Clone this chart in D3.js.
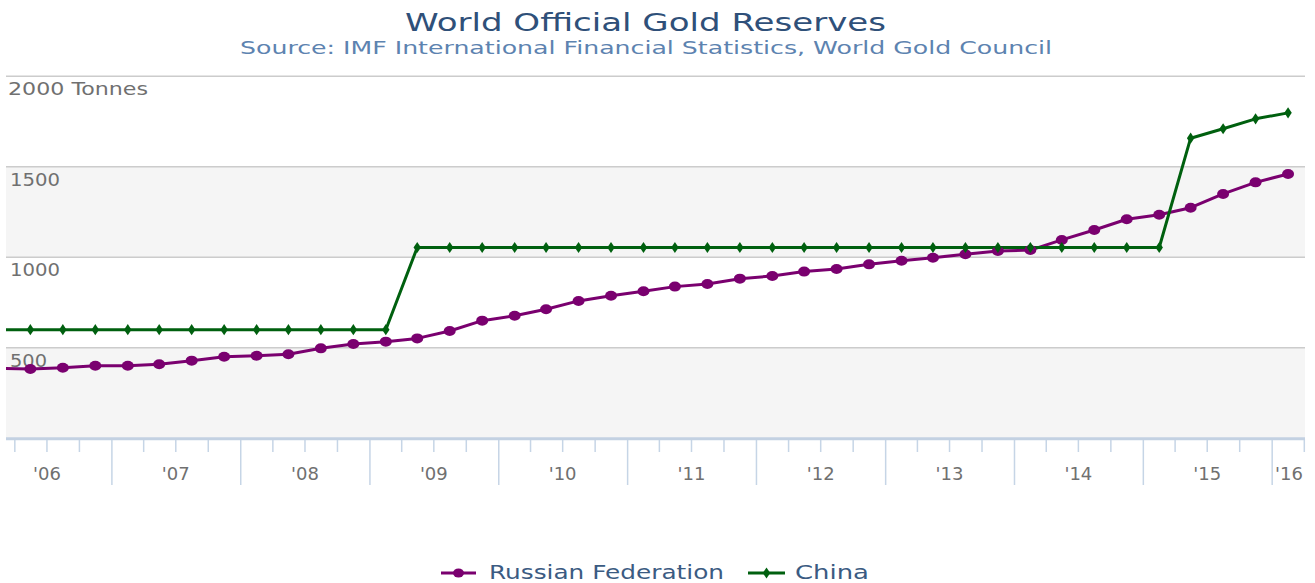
<!DOCTYPE html>
<html>
<head>
<meta charset="utf-8">
<script src="https://cdn.jsdelivr.net/npm/d3@7"></script>
<style>
  html, body { margin: 0; padding: 0; background: #fff; }
  svg { display: block; font-family: "DejaVu Sans", sans-serif; }
</style>
</head>
<body>
<svg id="chart" width="1315" height="583"></svg>
<script>
// ---- data ----
const quarters = [
  "2006-02-15","2006-05-15","2006-08-15","2006-11-15",
  "2007-02-15","2007-05-15","2007-08-15","2007-11-15",
  "2008-02-15","2008-05-15","2008-08-15","2008-11-15",
  "2009-02-15","2009-05-15","2009-08-15","2009-11-15",
  "2010-02-15","2010-05-15","2010-08-15","2010-11-15",
  "2011-02-15","2011-05-15","2011-08-15","2011-11-15",
  "2012-02-15","2012-05-15","2012-08-15","2012-11-15",
  "2013-02-15","2013-05-15","2013-08-15","2013-11-15",
  "2014-02-15","2014-05-15","2014-08-15","2014-11-15",
  "2015-02-15","2015-05-15","2015-08-15","2015-11-15",
  "2016-02-15"
];
const russia = [
  387, 383, 390, 401, 401, 409, 429, 451, 456, 464,
  497, 521, 534, 552, 593, 650, 677, 713, 759, 788,
  812, 838, 852, 882, 897, 921, 935, 961, 981, 998,
  1017, 1035, 1040, 1096, 1151, 1210, 1235, 1274, 1350, 1414,
  1460
];
const china = [
  600, 600, 600, 600, 600, 600, 600, 600, 600, 600,
  600, 600, 600, 1054, 1054, 1054, 1054, 1054, 1054, 1054,
  1054, 1054, 1054, 1054, 1054, 1054, 1054, 1054, 1054, 1054,
  1054, 1054, 1054, 1054, 1054, 1054, 1054, 1658, 1710, 1765,
  1798
];
const yTicks = [500, 1000, 1500, 2000];
const yTickLabels = ["500", "1000", "1500", "2000 Tonnes"];
const years = [2006, 2007, 2008, 2009, 2010, 2011, 2012, 2013, 2014, 2015, 2016];
const yearLabels = ["'06", "'07", "'08", "'09", "'10", "'11", "'12", "'13", "'14", "'15", "'16"];
const seriesNames = ["Russian Federation", "China"];
const title = "World Official Gold Reserves";
const subtitle = "Source: IMF International Financial Statistics, World Gold Council";

// ---- layout ----
const L = 6, R = 1305, T = 76.3, B = 438.3;
const cPurple = "#7a006f", cGreen = "#00600f";
const parse = d3.timeParse("%Y-%m-%d");
const dates = quarters.map(parse);

const x = d3.scaleTime()
  .domain([parse("2006-03-07"), parse("2016-04-03")])
  .range([L, R]);
const y = d3.scaleLinear().domain([0, 2000]).range([B, T]);

const svg = d3.select("#chart");

// title
svg.append("text").attr("x", 645.5).attr("y", 31)
  .attr("text-anchor", "middle").attr("font-size", 25)
  .attr("fill", "#2f5079")
  .attr("textLength", 481).attr("lengthAdjust", "spacingAndGlyphs")
  .text(title);
svg.append("text").attr("x", 646).attr("y", 54)
  .attr("text-anchor", "middle").attr("font-size", 18)
  .attr("fill", "#5d83b0")
  .attr("textLength", 812).attr("lengthAdjust", "spacingAndGlyphs")
  .text(subtitle);

// bands
const bands = [[0, 500], [1000, 1500]];
svg.append("g").selectAll("rect").data(bands).join("rect")
  .attr("x", L).attr("width", R - L)
  .attr("y", d => y(d[1])).attr("height", d => y(d[0]) - y(d[1]))
  .attr("fill", "#f5f5f5");

// gridlines
svg.append("g").selectAll("line").data(yTicks).join("line")
  .attr("x1", L).attr("x2", R)
  .attr("y1", d => y(d)).attr("y2", d => y(d))
  .attr("stroke", "#cccccc").attr("stroke-width", 1.5);

// y labels
svg.append("g").selectAll("text").data(yTicks).join("text")
  .attr("x", (d, i) => i === 3 ? 8 : 10)
  .attr("y", d => y(d) + 19)
  .attr("font-size", 18).attr("fill", "#707070")
  .attr("textLength", (d, i) => i === 3 ? 140 : (i === 0 ? 37 : 50))
  .attr("lengthAdjust", "spacingAndGlyphs")
  .text((d, i) => yTickLabels[i]);

// x axis
const xg = svg.append("g");
const qTicks = d3.timeMonth.every(3).range(x.domain()[0], x.domain()[1]);
xg.selectAll("line.tick").data(qTicks).join("line")
  .attr("class", "tick")
  .attr("x1", d => x(d)).attr("x2", d => x(d))
  .attr("y1", B)
  .attr("y2", d => d.getMonth() === 0 ? 485 : 452)
  .attr("stroke", "#c6d5e6").attr("stroke-width", 1.5);
xg.append("line").attr("x1", L).attr("x2", R).attr("y1", B + 0.5).attr("y2", B + 0.5)
  .attr("stroke", "#c3d1e2").attr("stroke-width", 3);
xg.selectAll("text").data(years).join("text")
  .attr("x", d => Math.min(x(new Date(d, 6, 1)), 1289))
  .attr("y", 480)
  .attr("text-anchor", "middle").attr("font-size", 18).attr("fill", "#707070")
  .text((d, i) => yearLabels[i]);

// clip
svg.append("clipPath").attr("id", "clip").append("rect")
  .attr("x", L).attr("y", 40).attr("width", R - L).attr("height", 420);

const plot = svg.append("g").attr("clip-path", "url(#clip)");
const line = d3.line().x((d, i) => x(dates[i])).y(d => y(d));

plot.append("path").datum(russia).attr("d", line)
  .attr("fill", "none").attr("stroke", cPurple).attr("stroke-width", 3)
  .attr("stroke-linejoin", "round");
plot.append("path").datum(china).attr("d", line)
  .attr("fill", "none").attr("stroke", cGreen).attr("stroke-width", 3)
  .attr("stroke-linejoin", "round");

plot.append("g").selectAll("ellipse").data(russia).join("ellipse")
  .attr("cx", (d, i) => x(dates[i])).attr("cy", d => y(d))
  .attr("rx", 6).attr("ry", 5).attr("fill", cPurple);

const diamond = d3.symbol().type(d3.symbolDiamond).size(36);
plot.append("g").selectAll("path").data(china).join("path")
  .attr("transform", (d, i) => `translate(${x(dates[i])},${y(d)}) scale(1.15,1)`)
  .attr("d", diamond).attr("fill", cGreen);

// legend
const lg = svg.append("g");
lg.append("line").attr("x1", 441).attr("x2", 476).attr("y1", 573).attr("y2", 573)
  .attr("stroke", cPurple).attr("stroke-width", 3);
lg.append("ellipse").attr("cx", 458.5).attr("cy", 573).attr("rx", 5.5).attr("ry", 4.5).attr("fill", cPurple);
lg.append("text").attr("x", 489).attr("y", 579).attr("font-size", 19).attr("fill", "#3b5b82")
  .attr("textLength", 235).attr("lengthAdjust", "spacingAndGlyphs")
  .text(seriesNames[0]);
lg.append("line").attr("x1", 748).attr("x2", 785).attr("y1", 573).attr("y2", 573)
  .attr("stroke", cGreen).attr("stroke-width", 3);
lg.append("path").attr("transform", "translate(766.5,573) scale(1.15,1)")
  .attr("d", diamond).attr("fill", cGreen);
lg.append("text").attr("x", 795).attr("y", 579).attr("font-size", 19).attr("fill", "#3b5b82")
  .attr("textLength", 74).attr("lengthAdjust", "spacingAndGlyphs")
  .text(seriesNames[1]);
</script>
</body>
</html>
